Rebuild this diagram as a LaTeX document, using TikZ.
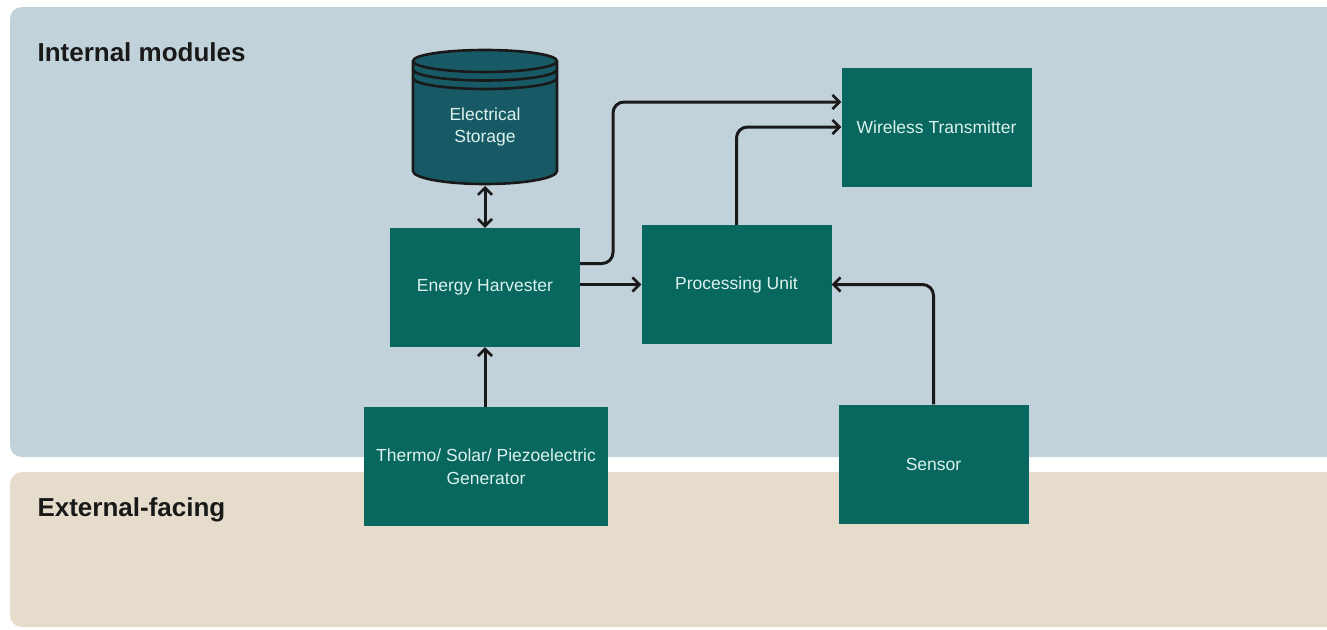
\documentclass[tikz,border=0pt]{standalone}
\usepackage{fontspec}
\setmainfont{Liberation Sans}
\usetikzlibrary{arrows.meta}
\definecolor{panelblue}{HTML}{C2D2DA}
\definecolor{paneltan}{HTML}{E6DCCB}
\definecolor{boxteal}{HTML}{08675F}
\definecolor{cyl}{HTML}{175A66}
\definecolor{boxtext}{HTML}{DDF2EE}
\tikzset{
  mod/.style={fill=boxteal, draw=none, minimum width=190pt, minimum height=119pt, inner sep=0pt, text=boxtext, font=\fontsize{17.5}{23}\selectfont, align=center},
  barb/.tip={Straight Barb[length=7pt,width=14pt,line width=2.6pt]},
  conn/.style={line width=3pt, draw=black!90, rounded corners=11pt, -barb},
  title/.style={anchor=west, font=\fontsize{26}{30}\selectfont\bfseries, text=black!90},
  cylline/.style={line width=2.6pt, draw=black!90}
}
\begin{document}
\begin{tikzpicture}[x=1pt,y=-1pt]
\useasboundingbox (0,0) rectangle (1327,629);
\fill[white] (0,0) rectangle (1327,629);
% panels
\fill[panelblue, rounded corners=12pt] (10,7) rectangle (1345,457);
\fill[paneltan, rounded corners=12pt] (10,472) rectangle (1345,627);
\node[title] (tin) at (34,52) {Internal modules};
\node[title] (tex) at (34,510) {External-facing};
% boxes
\node[mod] (eh) at (485,287.5) {Energy Harvester};
\node[mod] (pu) at (736.5,284.5) {Processing Unit};
\node[mod] (wt) at (936.5,127.5) {Wireless Transmitter};
\node[mod, minimum width=244pt] (gen) at (486,466.5) {Thermo/ Solar/ Piezoelectric\\Generator};
\node[mod] (sen) at (933.5,464) {Sensor};
% cylinder
\draw[fill=cyl, cylline]
  (413,61) -- (413,171) arc[start angle=180, end angle=0, x radius=72, y radius=13] -- (557,61)
  arc[start angle=360, end angle=180, x radius=72, y radius=11] -- cycle;
\draw[cylline] (413,61) arc[start angle=180, end angle=0, x radius=72, y radius=11];
\draw[cylline] (413,69.5) arc[start angle=180, end angle=0, x radius=72, y radius=11];
\draw[cylline] (413,78) arc[start angle=180, end angle=0, x radius=72, y radius=11];
\coordinate (cylbot) at (485,186);
\node[text=boxtext, font=\fontsize{17.5}{22}\selectfont, align=center] (es) at (485,127) {Electrical\\Storage};
% connectors
\draw[conn, barb-barb] (cylbot) -- (eh.north);
\draw[conn] (gen.north -| eh.south) -- (eh.south);
\draw[conn] (eh.east |- pu.west) -- (pu.west);
\draw[conn] ([yshift=24pt]eh.east) -| (613,102) -- ([yshift=25.5pt]wt.west);
\draw[conn] (pu.north) |- ([yshift=0.5pt]wt.west);
\draw[conn] (sen.north) |- (pu.east);
\end{tikzpicture}
\end{document}
